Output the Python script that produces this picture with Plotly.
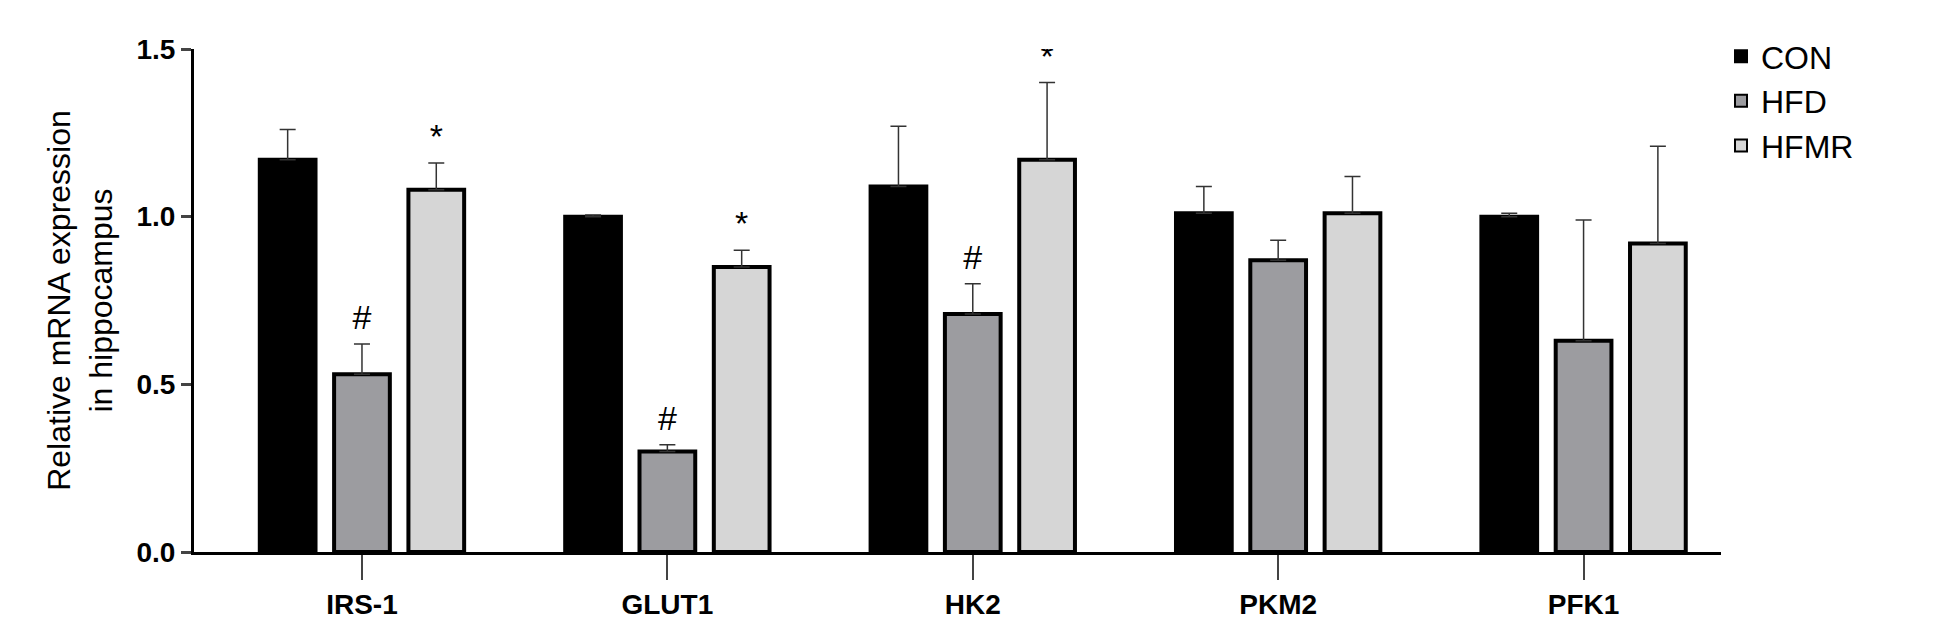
import plotly.graph_objects as go

genes = ["IRS-1", "GLUT1", "HK2", "PKM2", "PFK1"]
groups = ["CON", "HFD", "HFMR"]
con = [1.17, 1.00, 1.09, 1.01, 1.00]
con_err = [0.09, 0.005, 0.18, 0.08, 0.01]
hfd = [0.53, 0.30, 0.71, 0.87, 0.63]
hfd_err = [0.09, 0.02, 0.09, 0.06, 0.36]
hfmr = [1.08, 0.85, 1.17, 1.01, 0.92]
hfmr_err = [0.08, 0.05, 0.23, 0.11, 0.29]
hfd_marks = ["#", "#", "#", "", ""]
hfmr_marks = ["*", "*", "*", "", ""]

colors = ["#000000", "#9c9ca0", "#d6d6d6"]
vals = [con, hfd, hfmr]
errs = [con_err, hfd_err, hfmr_err]
marks = [["", "", "", "", ""], hfd_marks, hfmr_marks]

fig = go.Figure()
for i in range(3):
    fig.add_trace(go.Bar(
        x=genes, y=vals[i], name=groups[i], offsetgroup=str(i),
        marker=dict(color=colors[i], line=dict(color="black", width=4)),
        error_y=dict(type="data", array=errs[i], arrayminus=[0] * 5, symmetric=False,
                     color="#333333", thickness=1.5, width=8),
    ))
for i in range(3):
    tops = [v + e + 0.07 for v, e in zip(vals[i], errs[i])]
    fig.add_trace(go.Scatter(
        x=genes, y=tops, text=marks[i], mode="text", offsetgroup=str(i),
        showlegend=False, textfont=dict(size=34, color="black"),
    ))

fig.update_layout(
    width=1940, height=629,
    margin=dict(l=186, r=227, t=41, b=85),
    plot_bgcolor="white", paper_bgcolor="white",
    barmode="group", scattermode="group", bargap=0.27, bargroupgap=0.25,
    font=dict(family="Liberation Sans", color="black"),
    legend=dict(x=1.0, y=1.04, yanchor="top", font=dict(size=32, family="Liberation Sans"),
                itemsizing="constant", tracegroupgap=30),
    showlegend=True,
)
fig.update_xaxes(showline=True, linecolor="black", linewidth=3, ticks="outside", ticklen=25,
                 tickwidth=2, tickfont=dict(size=28, family="Liberation Sans"),
                 tickprefix="<b>", ticksuffix="</b>", range=[-0.55, 4.45])
fig.update_yaxes(range=[0, 1.5], dtick=0.5, tickformat=".1f", showline=True, linecolor="black",
                 linewidth=3, ticks="outside", ticklen=10, tickwidth=3, showgrid=False, zeroline=False,
                 tickfont=dict(size=28, family="Liberation Sans"), tickprefix="<b>", ticksuffix="</b>",
                 title=dict(text="Relative mRNA expression<br>in hippocampus", font=dict(size=32)))
fig.write_html("out.html")
